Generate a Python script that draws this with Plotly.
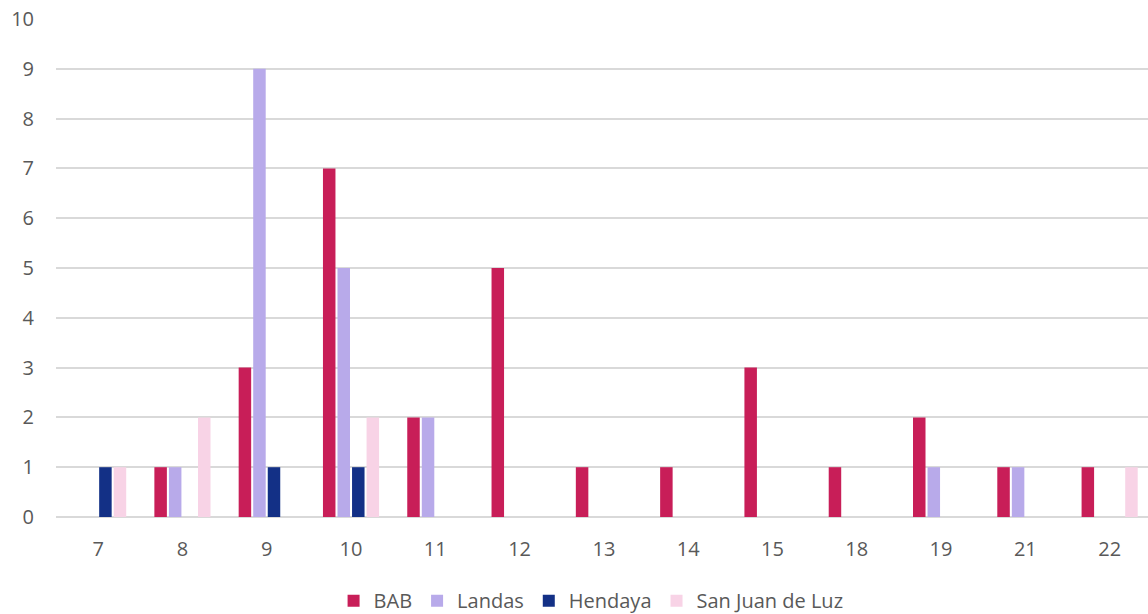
import plotly.graph_objects as go

# Categories along the x axis
categorias = ["7", "8", "9", "10", "11", "12", "13", "14", "15", "18", "19", "21", "22"]

# Counts per series
bab = [0, 1, 3, 7, 2, 5, 1, 1, 3, 1, 2, 1, 1]
landas = [0, 1, 9, 5, 2, 0, 0, 0, 0, 0, 1, 1, 0]
hendaya = [1, 0, 1, 1, 0, 0, 0, 0, 0, 0, 0, 0, 0]
san_juan = [1, 2, 0, 2, 0, 0, 0, 0, 0, 0, 0, 0, 1]

series = [
    ("BAB", bab, "#C81E58"),
    ("Landas", landas, "#B8AAEA"),
    ("Hendaya", hendaya, "#133086"),
    ("San Juan de Luz", san_juan, "#F8D3E6"),
]

fig = go.Figure()
for nombre, valores, color in series:
    fig.add_trace(go.Bar(
        x=categorias,
        y=valores,
        name=nombre,
        marker=dict(color=color, line=dict(width=0)),
    ))

font_family = "Open Sans, Noto Sans, Liberation Sans, sans-serif"
text_color = "#595959"
grid_color = "#D9D9D9"

fig.update_layout(
    width=1148,
    height=614,
    margin=dict(l=55.5, r=0, t=18.5, b=96.5, autoexpand=False),
    paper_bgcolor="white",
    plot_bgcolor="white",
    barmode="group",
    bargap=0.31,
    bargroupgap=0.14,
    font=dict(family=font_family, size=20, color=text_color),
    showlegend=True,
    legend=dict(
        orientation="h",
        x=0.49,
        xanchor="center",
        y=-0.168,
        yanchor="middle",
        font=dict(family=font_family, size=20, color=text_color),
        traceorder="normal",
    ),
    xaxis=dict(
        type="category",
        range=[-0.5, 12.455],
        showgrid=False,
        showline=False,
        zeroline=False,
        ticks="",
        ticklabelstandoff=18,
        automargin=False,
        tickfont=dict(family=font_family, size=20, color=text_color),
    ),
    yaxis=dict(
        range=[0, 10],
        dtick=1,
        showgrid=True,
        gridcolor=grid_color,
        gridwidth=1.5,
        zeroline=True,
        zerolinecolor=grid_color,
        zerolinewidth=1.5,
        showline=False,
        ticks="",
        ticklabelstandoff=21,
        automargin=False,
        tickfont=dict(family=font_family, size=20, color=text_color),
    ),
)

fig.write_html("out.html")
